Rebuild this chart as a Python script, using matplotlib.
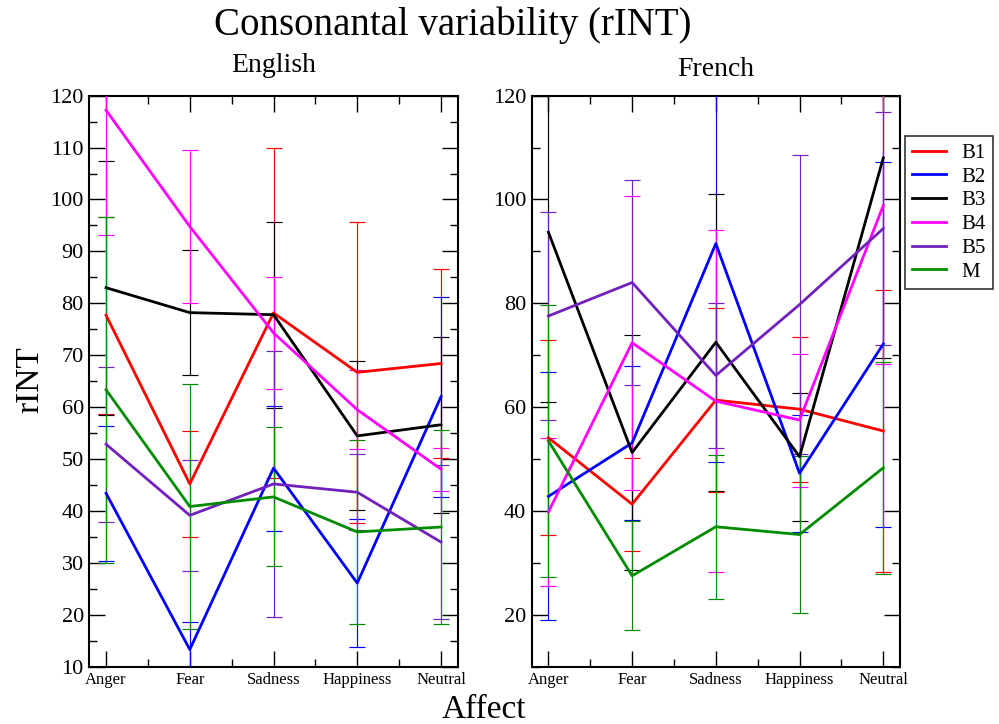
import matplotlib
matplotlib.use("Agg")
import matplotlib.pyplot as plt
from matplotlib.ticker import MultipleLocator, FixedLocator
import numpy as np

plt.rcParams['font.family'] = ['Liberation Serif', 'DejaVu Serif']

categories = ["Anger", "Fear", "Sadness", "Happiness", "Neutral"]
series_names = ["B1", "B2", "B3", "B4", "B5", "M"]
colors = ["#ff0000", "#0000ff", "#000000", "#ff00ff", "#7221bc", "#008b00"]

# English
en_B1 = [77.7, 45.2, 78.15, 66.7, 68.4]
en_B1_err = [19.0, 10.15, 31.75, 29.0, 18.3]
en_B2 = [43.4, 13.3, 48.25, 26.1, 62.0]
en_B2_err = [13.0, 5.3, 12.05, 12.4, 19.3]
en_B3 = [83.0, 78.2, 77.8, 54.45, 56.6]
en_B3_err = [24.5, 12.0, 17.9, 14.35, 17.0]
en_B4 = [117.2, 94.8, 74.3, 59.5, 48.05]
en_B4_err = [24.0, 14.8, 10.8, 7.6, 4.15]
en_B5 = [52.85, 39.15, 45.2, 43.6, 34.0]
en_B5_err = [14.95, 10.75, 25.7, 7.3, 14.8]
en_M = [63.35, 40.85, 42.7, 35.95, 36.9]
en_M_err = [33.35, 23.55, 13.4, 17.65, 18.6]

# French
fr_B1 = [54.1, 41.3, 61.35, 59.6, 55.4]
fr_B1_err = [18.75, 8.95, 17.65, 13.95, 27.1]
fr_B2 = [42.8, 53.1, 91.5, 47.25, 72.15]
fr_B2_err = [23.9, 14.9, 42.0, 11.25, 35.15]
fr_B3 = [93.7, 51.25, 72.5, 50.45, 108.0]
fr_B3_err = [32.7, 22.55, 28.6, 12.35, 38.5]
fr_B4 = [39.8, 72.4, 61.15, 57.5, 98.8]
fr_B4_err = [14.2, 28.3, 32.95, 12.8, 30.4]
fr_B5 = [77.55, 84.0, 66.1, 79.75, 94.4]
fr_B5_err = [20.1, 19.8, 13.9, 28.85, 22.4]
fr_M = [53.5, 27.5, 36.95, 35.45, 48.3]
fr_M_err = [26.2, 10.5, 13.85, 15.05, 20.45]

english = [(en_B1, en_B1_err), (en_B2, en_B2_err), (en_B3, en_B3_err),
           (en_B4, en_B4_err), (en_B5, en_B5_err), (en_M, en_M_err)]
french = [(fr_B1, fr_B1_err), (fr_B2, fr_B2_err), (fr_B3, fr_B3_err),
          (fr_B4, fr_B4_err), (fr_B5, fr_B5_err), (fr_M, fr_M_err)]

fig = plt.figure(figsize=(9.99, 7.24), dpi=100)
axL = fig.add_axes([0.0894, 0.0792, 0.3688, 0.7887])
axR = fig.add_axes([0.5322, 0.0792, 0.3687, 0.7887])

x = np.arange(1, len(categories) + 1)

def draw(ax, data, major, minor):
    handles = []
    for (vals, err), name, c in zip(data, series_names, colors):
        eb = ax.errorbar(x, vals, yerr=err, color=c, lw=2.0, elinewidth=0.85,
                         capsize=5.8, capthick=0.85, label=name, zorder=3)
        handles.append(eb.lines[0])
    ax.set_xlim(0.8, 5.2)
    ax.set_ylim(10, 120)
    ax.xaxis.set_major_locator(FixedLocator(x))
    ax.xaxis.set_minor_locator(FixedLocator(x[:-1] + 0.5))
    ax.set_xticklabels(categories, fontsize=12)
    ax.yaxis.set_major_locator(MultipleLocator(major))
    ax.yaxis.set_minor_locator(MultipleLocator(minor))
    ax.tick_params(which='both', direction='in', top=True, right=True, width=1.0)
    ax.tick_params(which='major', length=11.5)
    ax.tick_params(which='minor', length=5.8)
    ax.tick_params(axis='x', which='major', pad=4)
    ax.tick_params(axis='y', which='major', labelsize=16, pad=4)
    for s in ax.spines.values():
        s.set_linewidth(1.5)
    return handles

handles = draw(axL, english, 10, 5)
draw(axR, french, 20, 10)

fig.text(453 / 999, 1 - 25 / 724, "Consonantal variability (rINT)", fontsize=28,
         ha='center', va='center')
fig.text(274 / 999, 1 - 65 / 724, "English", fontsize=20, ha='center', va='center')
fig.text(716 / 999, 1 - 70 / 724, "French", fontsize=20, ha='center', va='center')
fig.text(484 / 999, 1 - 710 / 724, "Affect", fontsize=24, ha='center', va='center')
fig.text(30 / 999, 1 - 380 / 724, "rINT", fontsize=24, ha='center', va='center',
         rotation=90)

leg = fig.legend(handles, series_names, loc='upper left',
                 bbox_to_anchor=(905 / 999, 1 - 136 / 724), fontsize=15,
                 frameon=True, fancybox=False, shadow=False, borderpad=0.35,
                 labelspacing=0.2, handlelength=1.6, handletextpad=0.75,
                 borderaxespad=0.0)
leg.get_frame().set_edgecolor('black')
leg.get_frame().set_linewidth(1.2)

fig.savefig("out.png", dpi=100)
